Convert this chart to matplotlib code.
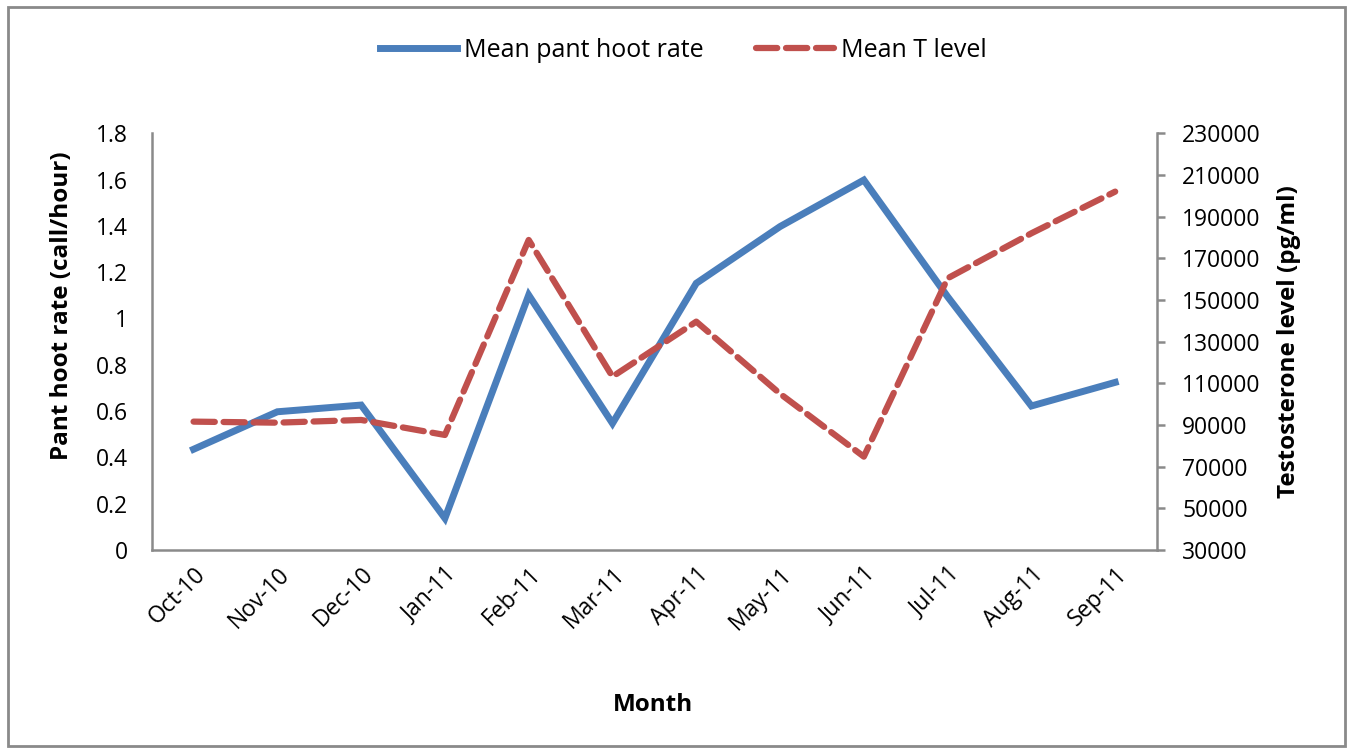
import matplotlib.pyplot as plt
from matplotlib.patches import Rectangle

plt.rcParams['font.family'] = ['Open Sans', 'DejaVu Sans']

# monthly means
months = ['Oct-10', 'Nov-10', 'Dec-10', 'Jan-11', 'Feb-11', 'Mar-11',
          'Apr-11', 'May-11', 'Jun-11', 'Jul-11', 'Aug-11', 'Sep-11']
hoot_rate = [0.435, 0.597, 0.626, 0.137, 1.101, 0.547,
             1.152, 1.397, 1.598, 1.094, 0.622, 0.724]
t_level = [91600, 91100, 92400, 85200, 178800, 113200,
           139600, 105000, 74800, 160400, 182000, 202000]

left_ticks = [0, 0.2, 0.4, 0.6, 0.8, 1, 1.2, 1.4, 1.6, 1.8]
left_tick_labels = ['0', '0.2', '0.4', '0.6', '0.8', '1', '1.2', '1.4', '1.6', '1.8']
right_ticks = list(range(30000, 230001, 20000))

blue = '#4a7ebb'
red = '#c0504d'
grey = '#8a8a8a'

fig = plt.figure(figsize=(13.53, 7.5), dpi=100)
ax = fig.add_axes([0.1121, 0.2667, 0.7431, 0.5556])
ax2 = ax.twinx()

x = list(range(len(months)))
l1, = ax.plot(x, hoot_rate, color=blue, lw=5, solid_joinstyle='miter',
              label='Mean pant hoot rate', zorder=3)
l2, = ax2.plot(x, t_level, color=red, lw=4.5, linestyle=(0, (3.4, 1.4)),
               dash_capstyle='round', label='Mean T level', zorder=2)

ax.set_xlim(-0.5, 11.5)
ax.set_ylim(0, 1.8)
ax2.set_ylim(30000, 230000)

ax.set_yticks(left_ticks)
ax.set_yticklabels(left_tick_labels)
ax.tick_params(axis='y', length=0, pad=17, labelsize=16.5)
ax.set_xticks(x)
ax.set_xticklabels(months, rotation=45, ha='right', rotation_mode='anchor')
ax.tick_params(axis='x', length=0, pad=9, labelsize=16.5)

ax2.set_yticks(right_ticks)
ax2.tick_params(axis='y', length=6, width=1.8, color=grey, pad=12, labelsize=16.5)

for a in (ax, ax2):
    a.spines['top'].set_visible(False)
    for side in ('left', 'right', 'bottom'):
        a.spines[side].set_color(grey)
        a.spines[side].set_linewidth(1.8)
ax.spines['right'].set_visible(False)
ax2.spines['left'].set_visible(False)
ax2.spines['bottom'].set_visible(False)

fig.text(0.046, 0.593, 'Pant hoot rate (call/hour)', rotation=90,
         ha='center', va='center', fontsize=17.5, fontweight='bold')
fig.text(0.953, 0.544, 'Testosterone level (pg/ml)', rotation=90,
         ha='center', va='center', fontsize=17.5, fontweight='bold')
fig.text(0.4826, 0.06, 'Month', ha='center', va='center',
         fontsize=17.5, fontweight='bold')

fig.legend(handles=[l1, l2], loc='center', bbox_to_anchor=(0.505, 0.933),
           ncol=2, frameon=False, fontsize=18, handlelength=3.1,
           handletextpad=0.28, columnspacing=2.1)

# outer chart border
fig.patches.append(Rectangle((0.006, 0.006), 0.988, 0.985, transform=fig.transFigure,
                             fill=False, edgecolor=grey, lw=2))

fig.savefig('out.png', dpi=100)
